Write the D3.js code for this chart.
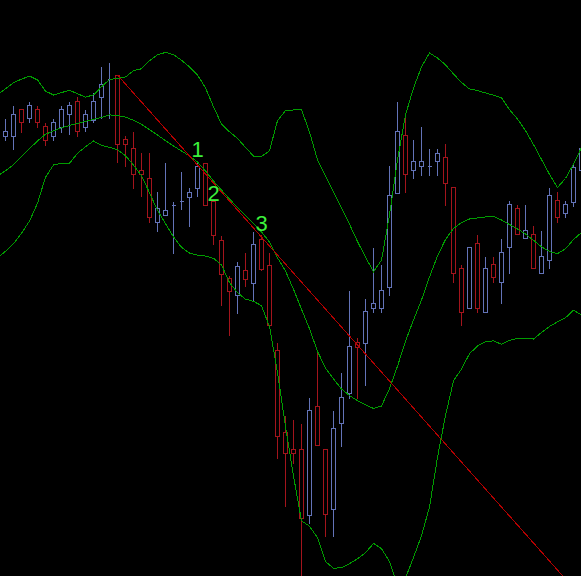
<!DOCTYPE html>
<html><head><meta charset="utf-8">
<script src="https://cdn.jsdelivr.net/npm/d3@7"></script>
<style>html,body{margin:0;padding:0;background:#000;overflow:hidden}</style>
</head><body>
<svg id="chart" width="581" height="576"></svg>
<script>
// ---- candle data (index 0..72) ----
const opens=[464.3,464.3,491,481.7,491,474,464.3,473.3,485.7,499,
473.3,480,503.3,521,525,460.7,451.7,429.7,421.7,378.3,
385.5,395,399,403.5,412,437.5,399,360.5,322,304.5,
330.5,317,361,335,250,167.7,150.7,150.7,85,194,
150.7,90.7,176.7,206.7,257.7,257.3,292.3,292.3,313.3,407,
464.7,430,434.3,434.3,438.7,442.7,412.7,331.7,292.3,356.7,
288.3,335.7,318.3,352.7,391.7,361.7,366,326.7,340,400,
387.3,398,430];
const highs=[482.3,495,492,499,495,478.3,481.7,495,499,504.3,
491,508,534,538.3,525,465,469,448.3,448.3,409,
438,399,429.5,413,439,437.5,400,365,325.5,339,
348,369.5,366,348,258.3,185,181,176.7,203.3,250,
150.7,190,228,310,263.3,302.3,353.3,336,435,499,
485,461,474,452.3,452.3,456.7,412.7,336,352.7,366,
344,344,361.7,400,395.7,395.7,375,370,412.7,409,
400,437,460];
const lows=[460,451,468.3,477.7,473.3,455,460,468.3,466,464.3,
469,478,481.7,481.7,438.3,434,412.3,404.3,378.3,369.3,
385,347.5,391,373.5,404,395,356,295,265,287,
314.5,300,330.5,275,141.7,94.3,137.3,15,77.3,155,
64.3,64.3,154.3,201.7,201.7,215,288.3,288.3,305,407,
408.3,421.7,425,425,425,395,318.3,275,292.3,288.3,
288.3,318.3,296.7,326.7,366,361.7,331.7,326.7,331.7,378.3,
382.7,394.5,428];
const closes=[468.7,485.7,477.7,494.7,477.7,460,477.7,490.7,494.7,468.7,
485.7,499,516,521,455.7,455.7,425.7,425.7,382.7,391.7,
390,395,399,408.5,434,395,365,326,309,334.5,
321.5,356,331,275.5,164,146.7,146.7,81.7,190,155,
85.7,171.7,203.3,254,253.3,289,296.7,310,405,469,
425.7,438.7,438.7,434.3,447.3,417.3,326.7,288.3,352.7,292.3,
331.7,322.7,348.3,395.7,366,370,331.7,344,404.7,382.7,
395.7,433.5,451.7];

// ---- Bollinger bands (index -1..72) ----
const bandStart=-1;
const upperBand=[505.2,
511.3,517.3,520.9,523.9,520.1,508.9,505,507.4,509.7,506.3,
502.9,505.1,513.2,520.5,521.5,523,529.4,531.2,539.3,545.2,
547.6,545.4,539.7,533.1,525.1,512,493.2,476,468.2,461.5,
452.6,443.9,443.4,449.3,479.2,489.4,490,490.3,468,439.9,
423.9,407.9,391.9,375.8,358.4,343,328.2,339.9,385,440,
485,512,533,547,542,535.2,526,517.5,511,509.4,
507.1,504.8,502.1,490.4,481,469.4,455.5,440.5,425.7,412.5,
421.5,436,452.5];
const middleBand=[424,
429.3,435.3,443.4,451.4,459,465.7,469.2,472.2,474.5,476.7,
478.7,480.6,482.5,485.1,484.6,482.9,479.7,475.6,470.3,465,
459.3,454,449,444,438,429,419,410,401,392.5,
384.5,376.5,368,358,342.1,329,310.7,290.7,271.4,248.6,
232,221,211,204.4,199.4,195.1,191.5,194,211.4,233.8,
258.9,280,300,323,344,360.5,371.5,377.5,381,382,
383,383.5,380,375.5,371,366,359.7,353.2,348.5,346.4,
351.2,360.4,367.5];
const lowerBand=[342,
348.7,356.3,366.8,379,396.7,422.8,435,436.6,436.7,446.8,
453.2,459,454.7,452.7,450.2,444.2,435,424.3,407.3,389.6,
376.4,363,352.7,346.9,344.8,343.9,341.7,335,317.4,307.4,
300.8,298.7,294.3,273.5,227.6,173.5,124,79.2,73.8,62.2,
38.4,31.7,32.3,36.3,41.2,47.2,56.6,51.4,38.3,15,
22,42.5,64.3,93,142.6,184.5,219.2,231,246.3,254,
258.3,259.1,255.7,259.6,261.5,261.8,261,267.5,273.5,278.2,
282.2,289.9,285];

// ---- trend line (index, value) ----
const trendIdx=[14,72];
const trendVal=[525,3];

// ---- labels ----
const labelTexts=["1","2","3"];
const labelIdx=[24,26,32];
const labelVals=[443,399,369.5];

const W=581,H=576;
const upColor="#6373b8", downColor="#a3141c", bandColor="#009c00", trendColor="#b40000", labelColor="#3cf03c";

const svg=d3.select("#chart");
svg.append("rect").attr("width",W).attr("height",H).attr("fill","#000");

const x=d3.scaleLinear().domain([0,72]).range([5.5,581.5]);
const y=d3.scaleLinear().domain([24,600]).range([576,0]);
const py=v=>Math.round(y(v))+0.5;

const candles=opens.map((o,i)=>({i,o,h:highs[i],l:lows[i],c:closes[i]}));

const g=svg.append("g").attr("shape-rendering","crispEdges");
const cg=g.selectAll("g.c").data(candles).join("g")
  .attr("stroke",d=>d.c>=d.o?upColor:downColor);
cg.append("line")
  .attr("x1",d=>x(d.i)).attr("x2",d=>x(d.i))
  .attr("y1",d=>py(d.h)).attr("y2",d=>py(d.l))
  .attr("stroke-width",1);
cg.append("path")
  .attr("d",d=>{
    const x0=x(d.i)-2, x1=x(d.i)+2;
    const yt=py(Math.max(d.o,d.c)), yb=py(Math.min(d.o,d.c));
    return `M${x0},${yt}H${x1}V${yb}H${x0}Z`;
  })
  .attr("fill","#000").attr("stroke-width",1);

const bandLine=d3.line().x((d,k)=>x(k+bandStart)).y(d=>y(d));
[upperBand,middleBand,lowerBand].forEach(arr=>{
  svg.append("path").attr("d",bandLine(arr))
    .attr("fill","none").attr("stroke",bandColor).attr("stroke-width",1)
    .attr("shape-rendering","crispEdges");
});

const tl=d3.line().x(d=>x(d[0])).y(d=>y(d[1]));
svg.append("path").attr("d",tl(trendIdx.map((t,k)=>[t,trendVal[k]])))
  .attr("fill","none").attr("stroke",trendColor).attr("stroke-width",1)
  .attr("shape-rendering","crispEdges");

svg.selectAll("text.lbl").data(labelTexts).join("text")
  .attr("class","lbl")
  .attr("x",(d,k)=>x(labelIdx[k]))
  .attr("y",(d,k)=>y(labelVals[k]))
  .attr("text-anchor","middle")
  .attr("font-family","'Liberation Sans', Arial, sans-serif")
  .attr("font-size",22)
  .attr("fill",labelColor)
  .text(d=>d);
</script>
</body></html>
